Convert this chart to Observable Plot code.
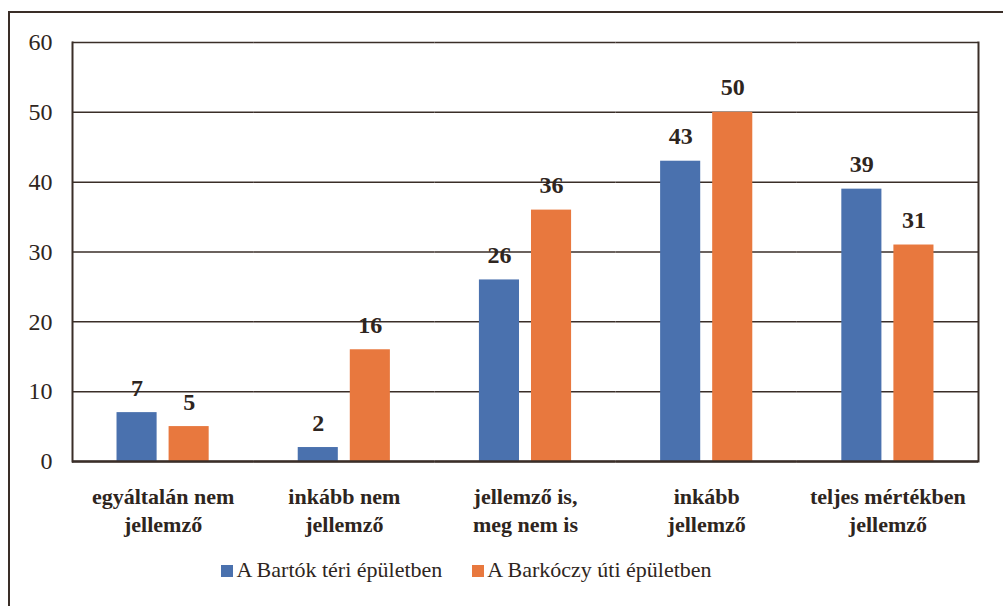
<!DOCTYPE html>
<html>
<head>
<meta charset="utf-8">
<script src="https://cdn.jsdelivr.net/npm/d3@7"></script>
<script src="https://cdn.jsdelivr.net/npm/@observablehq/plot@0.6"></script>
<style>
  body { margin: 0; padding: 0; background: #fff; font-family: serif; }
  #frame { position: absolute; left: 8px; top: 11px; width: 995px; height: 595px;
           border-left: 2.5px solid #3a2e28; border-top: 2.5px solid #3a2e28; box-sizing: border-box; pointer-events: none; }
  #chart svg { display: block; }
  #legend { text-align: center; margin-top: 12px; width: 933px;
            font-family: serif; font-size: 22px; color: #2e2520; }
  #legend .item { display: inline-block; margin: 0 15px; }
  #legend .sw { width: 12px; height: 12px; margin-right: 3px; display: inline-block; }
</style>
</head>
<body>
<div id="chart"></div>
<div id="legend"></div>
<div id="frame"></div>
<script>
const categories = ["egyáltalán nem\njellemző", "inkább nem\njellemző", "jellemző is,\nmeg nem is", "inkább\njellemző", "teljes mértékben\njellemző"];
const seriesNames = ["A Bartók téri épületben", "A Barkóczy úti épületben"];
const bartok = [7, 2, 26, 43, 39];
const barkoczy = [5, 16, 36, 50, 31];
const colors = ["#4a71ae", "#e8783e"];
const yTicks = [0, 10, 20, 30, 40, 50, 60];

const data = [];
categories.forEach((c, i) => {
  data.push({category: c, series: seriesNames[0], value: bartok[i]});
  data.push({category: c, series: seriesNames[1], value: barkoczy[i]});
});

const ink = "#2e2520";
const fam = "serif";

const chart = Plot.plot({
  width: 1003,
  height: 545,
  marginLeft: 72,
  marginRight: 25,
  marginTop: 42,
  marginBottom: 84,
  style: {fontFamily: fam, color: ink, background: "white", overflow: "visible"},
  fx: {domain: categories, paddingInner: 0, paddingOuter: 0, round: false, label: null},
  x: {domain: seriesNames, paddingInner: 0.23, paddingOuter: 0.855, round: false, axis: null},
  y: {domain: [0, 60], label: null},
  color: {domain: seriesNames, range: colors},
  marks: [
    Plot.gridY(yTicks, {stroke: "#3a2e28", strokeOpacity: 1, strokeWidth: 1.5}),
    Plot.frame({anchor: "left", facetAnchor: "left", stroke: "#3a2e28", strokeWidth: 2}),
    Plot.frame({anchor: "right", facetAnchor: "right", stroke: "#3a2e28", strokeWidth: 2}),
    Plot.barY(data, {fx: "category", x: "series", y: "value", fill: "series"}),
    Plot.ruleY([0], {stroke: "#3a2e28", strokeWidth: 2.5}),
    Plot.text(data, {fx: "category", x: "series", y: "value", text: d => String(d.value),
      lineAnchor: "bottom", dy: -17, fontWeight: "bold", fontSize: 24, fill: ink, fontFamily: fam}),
    Plot.axisY(yTicks, {tickSize: 0, tickPadding: 20, fontSize: 24, fill: ink, label: null, fontFamily: fam}),
    Plot.axisFx({anchor: "bottom", tickSize: 0, tickPadding: 22, fontSize: 22, fontWeight: "bold",
      lineHeight: 1.3, fill: ink, label: null, fontFamily: fam})
  ]
});
document.getElementById("chart").appendChild(chart);

const legend = document.getElementById("legend");
seriesNames.forEach((s, i) => {
  const item = document.createElement("span");
  item.className = "item";
  const sw = document.createElement("span");
  sw.className = "sw";
  sw.style.background = colors[i];
  item.appendChild(sw);
  item.appendChild(document.createTextNode(s));
  legend.appendChild(item);
});
</script>
</body>
</html>
